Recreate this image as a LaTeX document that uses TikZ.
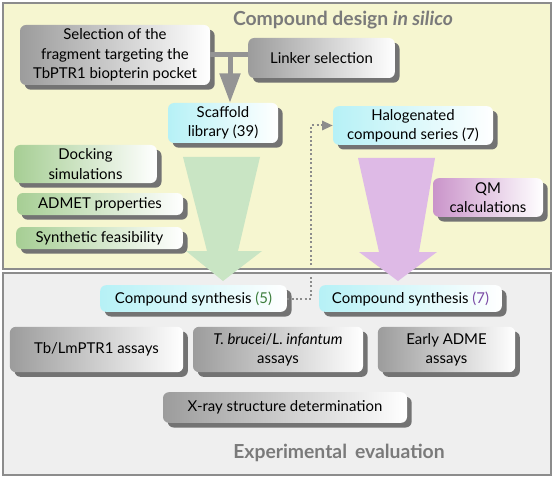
\documentclass[tikz,border=0pt]{standalone}
\usepackage{fontspec}
\setmainfont{Lato}
\usetikzlibrary{arrows.meta,shadows}

\definecolor{paneltop}{HTML}{F6F6D0}
\definecolor{panelbot}{HTML}{EFEFEF}
\definecolor{panelline}{HTML}{8C8C8C}
\definecolor{titlegray}{HTML}{7A7A7A}
\definecolor{boxgray}{HTML}{9C9C9C}
\definecolor{boxgreen}{HTML}{A6CE94}
\definecolor{boxpurple}{HTML}{CA94CA}
\definecolor{boxcyan}{HTML}{B6F1F6}
\definecolor{arrowgreen}{HTML}{C9E5C4}
\definecolor{arrowpink}{HTML}{DEBAE6}
\definecolor{numgreen}{HTML}{3C7D3C}
\definecolor{numpurple}{HTML}{7B4BA6}

\begin{document}
\begin{tikzpicture}
	[x=0.75pt,y=-0.75pt,
		base box/.style={rounded corners=4.5pt,align=center,inner sep=1pt,
			font=\fontsize{11.2}{14.5}\selectfont,
			drop shadow={shadow xshift=3.5pt,shadow yshift=-3.5pt,fill=black!55,opacity=1}},
		gray box/.style={base box,left color=boxgray,right color=white},
		green box/.style={base box,left color=boxgreen,right color=white},
		purple box/.style={base box,left color=boxpurple,right color=white},
		cyan box/.style={base box,left color=boxcyan,right color=white},
		panel/.style={draw=panelline,line width=1.1pt},
		title/.style={font=\bfseries\fontsize{14.5}{16}\selectfont,text=titlegray},
		gray link/.style={draw=black!42,line width=3.75pt},
		dot link/.style={draw=black!45,line width=1.5pt,dash pattern=on 1.5pt off 1.8pt}]

	\useasboundingbox (0,0) rectangle (555,477);

	% panels
	\draw[panel,fill=paneltop] (3,3) rectangle (551,269);
	\draw[panel,fill=panelbot] (3,273) rectangle (551,475);

	\node[title] (design) at (343,20) {Compound design \textit{in silico}};
	\node[title] (evaluation) at (339,453) {Experimental\, evaluation};

	% big arrows
	\fill[arrowgreen] (183,157) -- (260,157) -- (238,251) -- (262,251) -- (223,281)
		-- (186,251) -- (207,251) -- cycle;
	\fill[arrowpink] (358,158) -- (435,158) -- (419,252) -- (437,252) -- (398,281)
		-- (359,252) -- (379,252) -- cycle;

	% design steps
	\node[gray box,minimum width=142.5pt,minimum height=45pt] (sel) at (115,55)
		{Selection of the\\fragment targeting the\\TbPTR1 biopterin pocket};
	\node[gray box,minimum width=110pt,minimum height=30pt] (linker) at (321.5,58) {Linker selection};
	\node[cyan box,minimum width=82.5pt,minimum height=30pt] (scaffold) at (223,123) {Scaffold\\library (39)};
	\node[cyan box,minimum width=120pt,minimum height=29pt] (halo) at (413,125.5) {Halogenated\\compound series (7)};

	\node[green box,minimum width=107pt,minimum height=28.5pt] (dock) at (85.5,164) {Docking\\simulations};
	\node[green box,minimum width=124.5pt,minimum height=16.5pt] (admet) at (100,204) {ADMET properties};
	\node[green box,minimum width=125pt,minimum height=16.5pt] (synth) at (99.5,238) {Synthetic feasibility};
	\node[purple box,minimum width=82.5pt,minimum height=29pt] (qm) at (488,197.5) {QM\\calculations};

	% evaluation steps
	\node[cyan box,minimum width=140pt,minimum height=20pt] (cs5) at (193.5,298.5)
		{Compound synthesis \textcolor{numgreen}{(5)}};
	\node[cyan box,minimum width=137pt,minimum height=20pt] (cs7) at (410.5,298.5)
		{Compound synthesis \textcolor{numpurple}{(7)}};
	\node[gray box,minimum width=130pt,minimum height=34pt] (tbl) at (96.5,349.5) {Tb/LmPTR1 assays};
	\node[gray box,minimum width=127.5pt,minimum height=34pt] (tbr) at (278,349.5)
		{\textit{T. brucei}/\textit{L. infantum}\\assays};
	\node[gray box,minimum width=103pt,minimum height=34pt] (adme) at (446.5,349.5) {Early ADME\\assays};
	\node[gray box,minimum width=183pt,minimum height=23pt] (xray) at (285,407.5) {X-ray structure determination};

	% connectors
	\coordinate (split) at (230,55);
	\draw[gray link] (sel.east |- split) -- (split -| linker.west);
	\draw[gray link,-{Triangle[width=15pt,length=22pt]}] (split) -- (split |- scaffold.north);
	\draw[dot link,-{Triangle[width=7pt,length=8pt]}] (cs5.east) -- ++(24,0) |- (halo.west);
\end{tikzpicture}
\end{document}
